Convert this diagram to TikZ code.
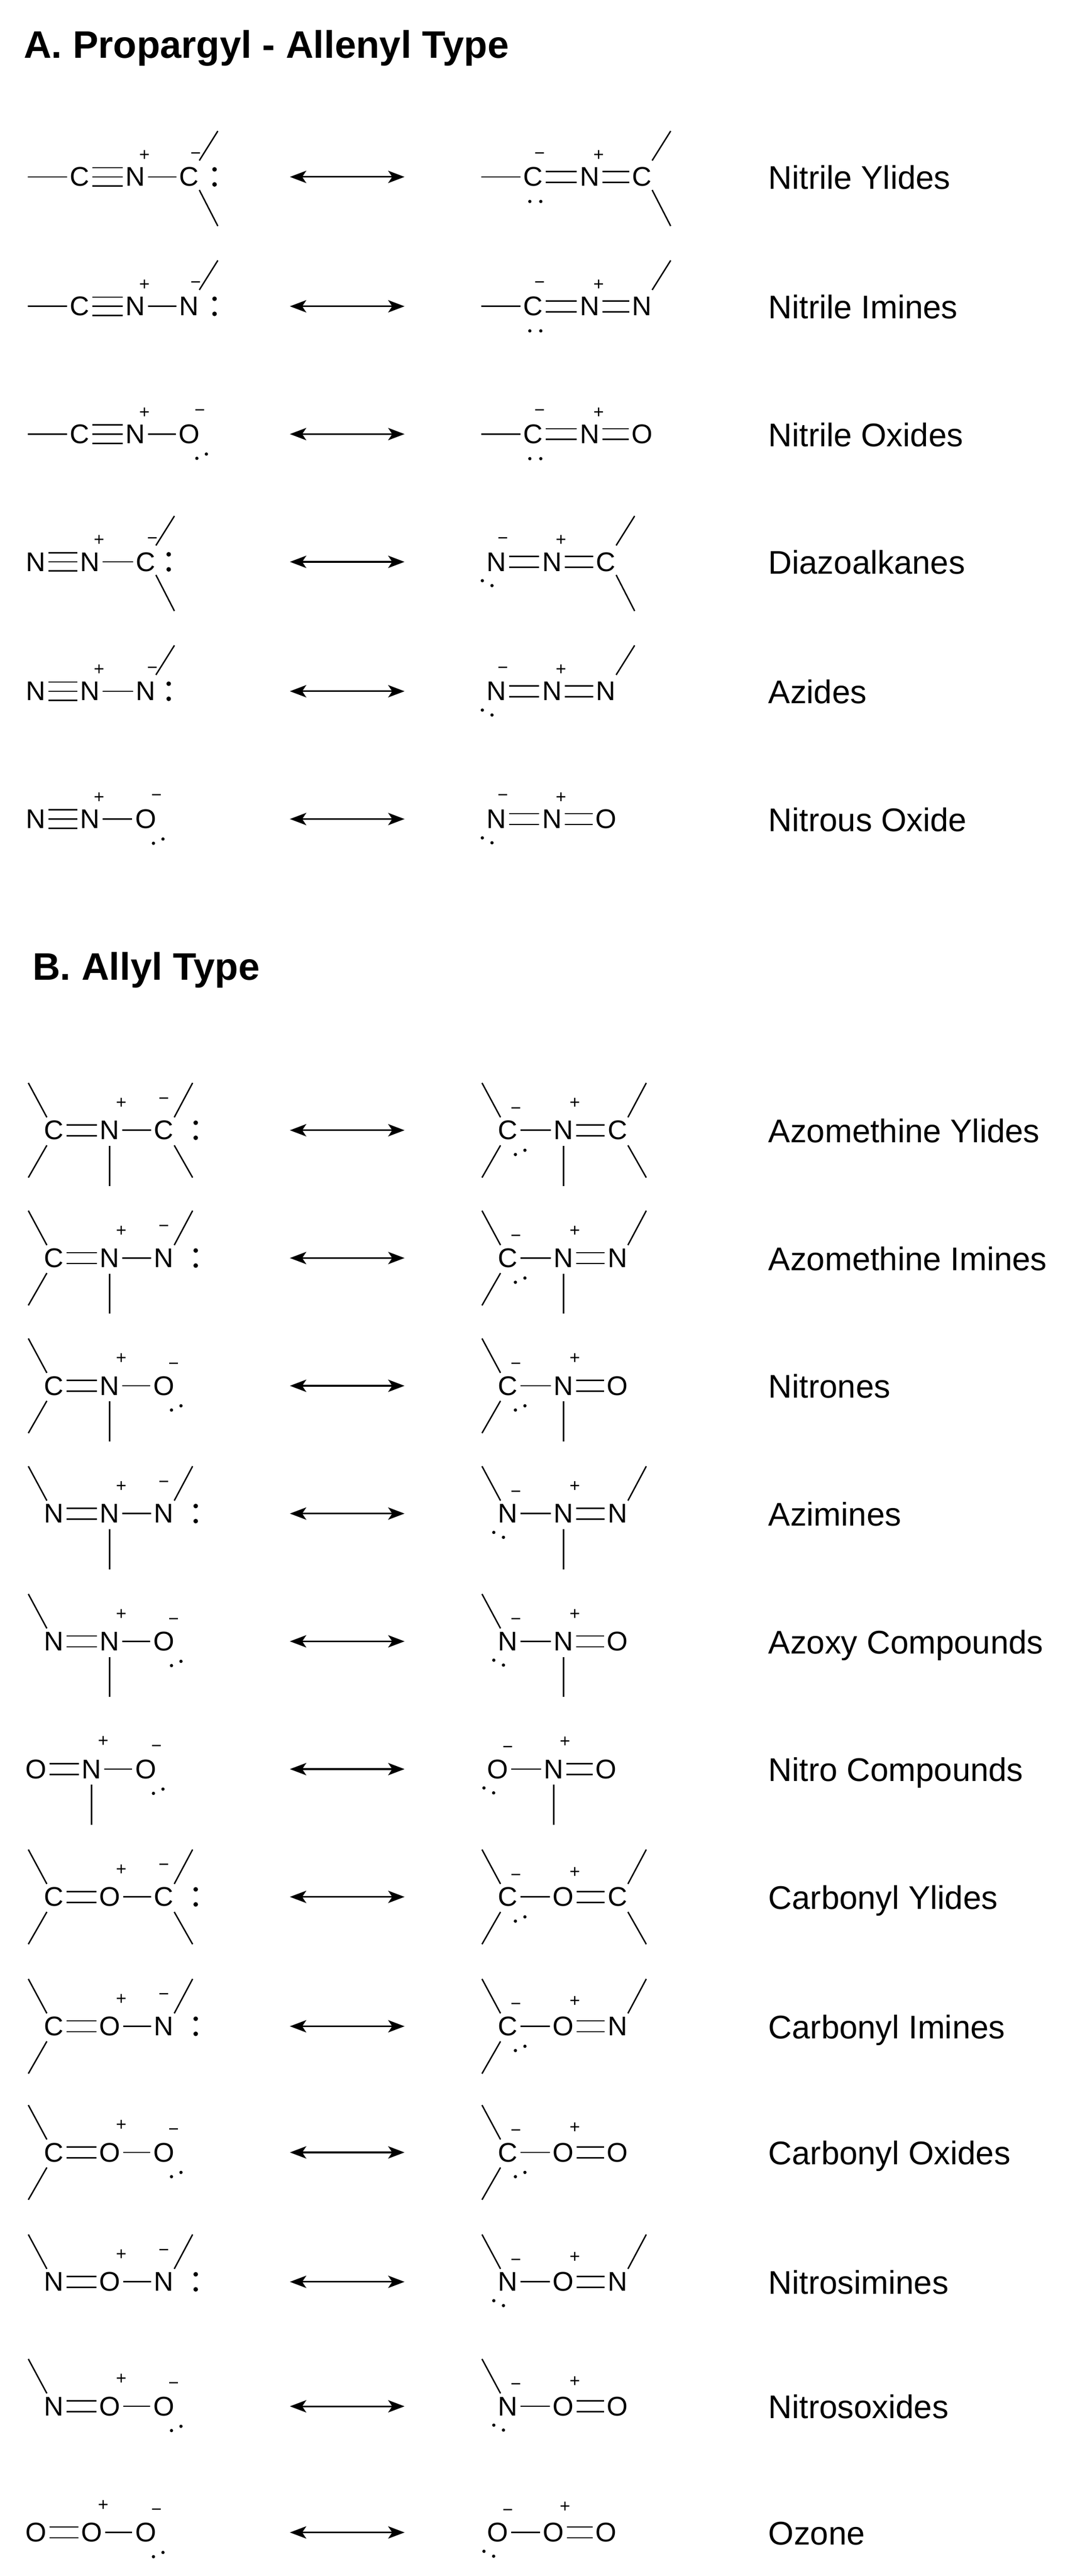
\documentclass[tikz,border=0pt]{standalone}
\usepackage{fontspec}
\setmainfont{Liberation Sans}
\usetikzlibrary{arrows.meta}
\newcommand\atm[3]{\node[atom] (#1) at (#2,0) {#3};}
\newcommand\sbond[2]{\draw[bond] (#1.east) -- (#2.west);}
\newcommand\dbond[2]{\draw[bond] ([yshift=3.3pt]#1.east) -- ([yshift=3.3pt]#2.west);\draw[bond] ([yshift=-3.3pt]#1.east) -- ([yshift=-3.3pt]#2.west);}
\newcommand\tbond[2]{\draw[bond] (#1.east) -- (#2.west);\draw[bond] ([yshift=5.6pt]#1.east) -- ([yshift=5.6pt]#2.west);\draw[bond] ([yshift=-5.6pt]#1.east) -- ([yshift=-5.6pt]#2.west);}
\newcommand\qq[4]{\node[chg] (#1q) at ([shift={(#2,#3)}]#1.center) {#4};}
\newcommand\pls[1]{\qq{#1}{5.5}{-13}{+}}
\newcommand\mns[1]{\qq{#1}{4}{-13}{−}}
\newcommand\dotat[3]{\fill ([shift={(#2,#3)}]#1.center) circle (1);}
\newcommand\colonat[2]{\fill ([shift={(#2,-4.6)}]#1.center) circle (1.4);\fill ([shift={(#2,4.6)}]#1.center) circle (1.4);}
\newcommand\diagd[1]{\dotat{#1}{4.7}{14.8}\dotat{#1}{10.5}{12.2}}
\newcommand\belowd[1]{\dotat{#1}{-2}{15}\dotat{#1}{4.7}{15}}
\newcommand\nd[1]{\dotat{#1}{-8.5}{11.5}\dotat{#1}{-2.6}{14.5}}
\newcommand\sbl[5]{\draw[bond] ([shift={(#2,#3)}]#1.center) -- ([shift={(#4,#5)}]#1.center);}
\newcommand\subAU[1]{\sbl{#1}{6.2}{-10}{17.5}{-28}}
\newcommand\subAD[1]{\sbl{#1}{6.2}{8}{17.5}{30}}
\newcommand\subUR[1]{\sbl{#1}{6.4}{-7.9}{17.6}{-28.9}}
\newcommand\subDR[1]{\sbl{#1}{6.4}{9.2}{17.6}{28.9}}
\newcommand\subUL[1]{\sbl{#1}{-4.4}{-7.9}{-15.7}{-28.9}}
\newcommand\subDL[1]{\sbl{#1}{-4.4}{9.2}{-15.7}{28.9}}
\newcommand\vb[1]{\sbl{#1}{0}{9.5}{0}{34}}
\newcommand\resarrow[2]{\coordinate (#1x) at (177,0);\coordinate (#1y) at (247,0);\draw[res] (#1x) -- (#1y);\node[lab] (#1n) at (469,7.5) {#2};}
\newcommand\lead[2]{\coordinate (#1) at (#2,0);}
\begin{document}
\begin{tikzpicture}[x=1pt,y=-1pt,
  atom/.style={inner xsep=1.6pt,inner ysep=0pt,font=\fontsize{16.5}{18}\selectfont},
  chg/.style={inner sep=0pt,font=\fontsize{11}{12}\selectfont},
  bond/.style={line width=0.85pt},
  res/.style={line width=1pt,{Stealth[length=10pt,width=7.5pt,inset=2.5pt]}-{Stealth[length=10pt,width=7.5pt,inset=2.5pt]}},
  lab/.style={anchor=base west,inner sep=0pt,font=\fontsize{20}{24}\selectfont},
  ttl/.style={anchor=base west,inner sep=0pt,font=\bfseries\fontsize{23.4}{28}\selectfont}]
\useasboundingbox (0,0) rectangle (656.1,1572.6);
\node[ttl] (tA) at (14.4,35.4) {A. Propargyl - Allenyl Type};
\node[ttl] (tB) at (19.7,598.4) {B. Allyl Type};
% ---------- A1
\begin{scope}[shift={(0,108)}]
\lead{a1s}{17}\atm{a1a}{48.6}{C}\atm{a1b}{82.7}{N}\atm{a1c}{115.5}{C}
\draw[bond] (a1s) -- (a1a.west);\tbond{a1a}{a1b}\sbond{a1b}{a1c}
\pls{a1b}\mns{a1c}\colonat{a1c}{15.5}\subAU{a1c}\subAD{a1c}
\resarrow{a1}{Nitrile Ylides}
\lead{a1t}{294}\atm{a1d}{325.5}{C}\atm{a1e}{360}{N}\atm{a1f}{392}{C}
\draw[bond] (a1t) -- (a1d.west);\dbond{a1d}{a1e}\dbond{a1e}{a1f}
\mns{a1d}\belowd{a1d}\pls{a1e}\subAU{a1f}\subAD{a1f}
\end{scope}
% ---------- A2
\begin{scope}[shift={(0,187)}]
\lead{a2s}{17}\atm{a2a}{48.6}{C}\atm{a2b}{82.7}{N}\atm{a2c}{115.5}{N}
\draw[bond] (a2s) -- (a2a.west);\tbond{a2a}{a2b}\sbond{a2b}{a2c}
\pls{a2b}\mns{a2c}\colonat{a2c}{15.5}\subAU{a2c}
\resarrow{a2}{Nitrile Imines}
\lead{a2t}{294}\atm{a2d}{325.5}{C}\atm{a2e}{360}{N}\atm{a2f}{392}{N}
\draw[bond] (a2t) -- (a2d.west);\dbond{a2d}{a2e}\dbond{a2e}{a2f}
\mns{a2d}\belowd{a2d}\pls{a2e}\subAU{a2f}
\end{scope}
% ---------- A3
\begin{scope}[shift={(0,265)}]
\lead{a3s}{17}\atm{a3a}{48.6}{C}\atm{a3b}{82.7}{N}\atm{a3c}{115.5}{O}
\draw[bond] (a3s) -- (a3a.west);\tbond{a3a}{a3b}\sbond{a3b}{a3c}
\pls{a3b}\qq{a3c}{6.5}{-13}{−}\diagd{a3c}
\resarrow{a3}{Nitrile Oxides}
\lead{a3t}{294}\atm{a3d}{325.5}{C}\atm{a3e}{360}{N}\atm{a3f}{392}{O}
\draw[bond] (a3t) -- (a3d.west);\dbond{a3d}{a3e}\dbond{a3e}{a3f}
\mns{a3d}\belowd{a3d}\pls{a3e}
\end{scope}
% ---------- A4
\begin{scope}[shift={(0,343)}]
\atm{a4a}{22}{N}\atm{a4b}{55}{N}\atm{a4c}{89}{C}
\tbond{a4a}{a4b}\sbond{a4b}{a4c}
\pls{a4b}\mns{a4c}\colonat{a4c}{14}\subAU{a4c}\subAD{a4c}
\resarrow{a4}{Diazoalkanes}
\atm{a4d}{303}{N}\atm{a4e}{337}{N}\atm{a4f}{370}{C}
\dbond{a4d}{a4e}\dbond{a4e}{a4f}
\mns{a4d}\nd{a4d}\pls{a4e}\subAU{a4f}\subAD{a4f}
\end{scope}
% ---------- A5
\begin{scope}[shift={(0,422)}]
\atm{a5a}{22}{N}\atm{a5b}{55}{N}\atm{a5c}{89}{N}
\tbond{a5a}{a5b}\sbond{a5b}{a5c}
\pls{a5b}\mns{a5c}\colonat{a5c}{14}\subAU{a5c}
\resarrow{a5}{Azides}
\atm{a5d}{303}{N}\atm{a5e}{337}{N}\atm{a5f}{370}{N}
\dbond{a5d}{a5e}\dbond{a5e}{a5f}
\mns{a5d}\nd{a5d}\pls{a5e}\subAU{a5f}
\end{scope}
% ---------- A6
\begin{scope}[shift={(0,500)}]
\atm{a6a}{22}{N}\atm{a6b}{55}{N}\atm{a6c}{89}{O}
\tbond{a6a}{a6b}\sbond{a6b}{a6c}
\pls{a6b}\qq{a6c}{6.5}{-13}{−}\diagd{a6c}
\resarrow{a6}{Nitrous Oxide}
\atm{a6d}{303}{N}\atm{a6e}{337}{N}\atm{a6f}{370}{O}
\dbond{a6d}{a6e}\dbond{a6e}{a6f}
\mns{a6d}\nd{a6d}\pls{a6e}
\end{scope}
% ========== B
\begin{scope}[shift={(0,690)}]
\atm{b1a}{33}{C}\atm{b1b}{67}{N}\atm{b1c}{100}{C}
\dbond{b1a}{b1b}\sbond{b1b}{b1c}
\qq{b1b}{7}{-16.5}{+}\qq{b1c}{0}{-18}{−}\colonat{b1c}{19.5}
\subUL{b1a}\subDL{b1a}\vb{b1b}\subUR{b1c}\subDR{b1c}
\resarrow{b1}{Azomethine Ylides}
\atm{b1d}{310}{C}\atm{b1e}{344}{N}\atm{b1f}{377}{C}
\sbond{b1d}{b1e}\dbond{b1e}{b1f}
\qq{b1d}{5}{-12}{−}\diagd{b1d}\qq{b1e}{7}{-16.5}{+}
\subUL{b1d}\subDL{b1d}\vb{b1e}\subUR{b1f}\subDR{b1f}
\end{scope}
\begin{scope}[shift={(0,768)}]
\atm{b2a}{33}{C}\atm{b2b}{67}{N}\atm{b2c}{100}{N}
\dbond{b2a}{b2b}\sbond{b2b}{b2c}
\qq{b2b}{7}{-16.5}{+}\qq{b2c}{0}{-18}{−}\colonat{b2c}{19.5}
\subUL{b2a}\subDL{b2a}\vb{b2b}\subUR{b2c}
\resarrow{b2}{Azomethine Imines}
\atm{b2d}{310}{C}\atm{b2e}{344}{N}\atm{b2f}{377}{N}
\sbond{b2d}{b2e}\dbond{b2e}{b2f}
\qq{b2d}{5}{-12}{−}\diagd{b2d}\qq{b2e}{7}{-16.5}{+}
\subUL{b2d}\subDL{b2d}\vb{b2e}\subUR{b2f}
\end{scope}
\begin{scope}[shift={(0,846)}]
\atm{b3a}{33}{C}\atm{b3b}{67}{N}\atm{b3c}{100}{O}
\dbond{b3a}{b3b}\sbond{b3b}{b3c}
\qq{b3b}{7}{-16.5}{+}\qq{b3c}{6}{-12}{−}\diagd{b3c}
\subUL{b3a}\subDL{b3a}\vb{b3b}
\resarrow{b3}{Nitrones}
\atm{b3d}{310}{C}\atm{b3e}{344}{N}\atm{b3f}{377}{O}
\sbond{b3d}{b3e}\dbond{b3e}{b3f}
\qq{b3d}{5}{-12}{−}\diagd{b3d}\qq{b3e}{7}{-16.5}{+}
\subUL{b3d}\subDL{b3d}\vb{b3e}
\end{scope}
\begin{scope}[shift={(0,924)}]
\atm{b4a}{33}{N}\atm{b4b}{67}{N}\atm{b4c}{100}{N}
\dbond{b4a}{b4b}\sbond{b4b}{b4c}
\qq{b4b}{7}{-16.5}{+}\qq{b4c}{0}{-18}{−}\colonat{b4c}{19.5}
\subUL{b4a}\vb{b4b}\subUR{b4c}
\resarrow{b4}{Azimines}
\atm{b4d}{310}{N}\atm{b4e}{344}{N}\atm{b4f}{377}{N}
\sbond{b4d}{b4e}\dbond{b4e}{b4f}
\qq{b4d}{5}{-12}{−}\nd{b4d}\qq{b4e}{7}{-16.5}{+}
\subUL{b4d}\vb{b4e}\subUR{b4f}
\end{scope}
\begin{scope}[shift={(0,1002)}]
\atm{b5a}{33}{N}\atm{b5b}{67}{N}\atm{b5c}{100}{O}
\dbond{b5a}{b5b}\sbond{b5b}{b5c}
\qq{b5b}{7}{-16.5}{+}\qq{b5c}{6}{-12}{−}\diagd{b5c}
\subUL{b5a}\vb{b5b}
\resarrow{b5}{Azoxy Compounds}
\atm{b5d}{310}{N}\atm{b5e}{344}{N}\atm{b5f}{377}{O}
\sbond{b5d}{b5e}\dbond{b5e}{b5f}
\qq{b5d}{5}{-12}{−}\nd{b5d}\qq{b5e}{7}{-16.5}{+}
\subUL{b5d}\vb{b5e}
\end{scope}
\begin{scope}[shift={(0,1080)}]
\atm{b6a}{22}{O}\atm{b6b}{56}{N}\atm{b6c}{89}{O}
\dbond{b6a}{b6b}\sbond{b6b}{b6c}
\qq{b6b}{7}{-17}{+}\qq{b6c}{6.5}{-12.5}{−}\diagd{b6c}\vb{b6b}
\resarrow{b6}{Nitro Compounds}
\atm{b6d}{304}{O}\atm{b6e}{338}{N}\atm{b6f}{370}{O}
\sbond{b6d}{b6e}\dbond{b6e}{b6f}
\qq{b6d}{6}{-12}{−}\nd{b6d}\qq{b6e}{7}{-16.5}{+}\vb{b6e}
\end{scope}
\begin{scope}[shift={(0,1158)}]
\atm{b7a}{33}{C}\atm{b7b}{67}{O}\atm{b7c}{100}{C}
\dbond{b7a}{b7b}\sbond{b7b}{b7c}
\qq{b7b}{7}{-16.5}{+}\qq{b7c}{0}{-18}{−}\colonat{b7c}{19.5}
\subUL{b7a}\subDL{b7a}\subUR{b7c}\subDR{b7c}
\resarrow{b7}{Carbonyl Ylides}
\atm{b7d}{310}{C}\atm{b7e}{344}{O}\atm{b7f}{377}{C}
\sbond{b7d}{b7e}\dbond{b7e}{b7f}
\qq{b7d}{5}{-12}{−}\diagd{b7d}\qq{b7e}{7}{-15}{+}
\subUL{b7d}\subDL{b7d}\subUR{b7f}\subDR{b7f}
\end{scope}
\begin{scope}[shift={(0,1237)}]
\atm{b8a}{33}{C}\atm{b8b}{67}{O}\atm{b8c}{100}{N}
\dbond{b8a}{b8b}\sbond{b8b}{b8c}
\qq{b8b}{7}{-16.5}{+}\qq{b8c}{0}{-18}{−}\colonat{b8c}{19.5}
\subUL{b8a}\subDL{b8a}\subUR{b8c}
\resarrow{b8}{Carbonyl Imines}
\atm{b8d}{310}{C}\atm{b8e}{344}{O}\atm{b8f}{377}{N}
\sbond{b8d}{b8e}\dbond{b8e}{b8f}
\qq{b8d}{5}{-12}{−}\diagd{b8d}\qq{b8e}{7}{-15}{+}
\subUL{b8d}\subDL{b8d}\subUR{b8f}
\end{scope}
\begin{scope}[shift={(0,1314)}]
\atm{b9a}{33}{C}\atm{b9b}{67}{O}\atm{b9c}{100}{O}
\dbond{b9a}{b9b}\sbond{b9b}{b9c}
\qq{b9b}{7}{-16.5}{+}\qq{b9c}{6}{-12.5}{−}\diagd{b9c}
\subUL{b9a}\subDL{b9a}
\resarrow{b9}{Carbonyl Oxides}
\atm{b9d}{310}{C}\atm{b9e}{344}{O}\atm{b9f}{377}{O}
\sbond{b9d}{b9e}\dbond{b9e}{b9f}
\qq{b9d}{5}{-12}{−}\diagd{b9d}\qq{b9e}{7}{-15}{+}
\subUL{b9d}\subDL{b9d}
\end{scope}
\begin{scope}[shift={(0,1393)}]
\atm{bXa}{33}{N}\atm{bXb}{67}{O}\atm{bXc}{100}{N}
\dbond{bXa}{bXb}\sbond{bXb}{bXc}
\qq{bXb}{7}{-16.5}{+}\qq{bXc}{0}{-18}{−}\colonat{bXc}{19.5}
\subUL{bXa}\subUR{bXc}
\resarrow{bX}{Nitrosimines}
\atm{bXd}{310}{N}\atm{bXe}{344}{O}\atm{bXf}{377}{N}
\sbond{bXd}{bXe}\dbond{bXe}{bXf}
\qq{bXd}{5}{-12}{−}\nd{bXd}\qq{bXe}{7}{-15}{+}
\subUL{bXd}\subUR{bXf}
\end{scope}
\begin{scope}[shift={(0,1469)}]
\atm{bYa}{33}{N}\atm{bYb}{67}{O}\atm{bYc}{100}{O}
\dbond{bYa}{bYb}\sbond{bYb}{bYc}
\qq{bYb}{7}{-16.5}{+}\qq{bYc}{6}{-12.5}{−}\diagd{bYc}
\subUL{bYa}
\resarrow{bY}{Nitrosoxides}
\atm{bYd}{310}{N}\atm{bYe}{344}{O}\atm{bYf}{377}{O}
\sbond{bYd}{bYe}\dbond{bYe}{bYf}
\qq{bYd}{5}{-12}{−}\nd{bYd}\qq{bYe}{7}{-15}{+}
\subUL{bYd}
\end{scope}
\begin{scope}[shift={(0,1546)}]
\atm{bZa}{22}{O}\atm{bZb}{56}{O}\atm{bZc}{89}{O}
\dbond{bZa}{bZb}\sbond{bZb}{bZc}
\qq{bZb}{7}{-16.5}{+}\qq{bZc}{6.5}{-12.5}{−}\diagd{bZc}
\resarrow{bZ}{Ozone}
\atm{bZd}{304}{O}\atm{bZe}{338}{O}\atm{bZf}{370}{O}
\sbond{bZd}{bZe}\dbond{bZe}{bZf}
\qq{bZd}{6}{-12}{−}\nd{bZd}\qq{bZe}{7}{-15.5}{+}
\end{scope}
\end{tikzpicture}
\end{document}
